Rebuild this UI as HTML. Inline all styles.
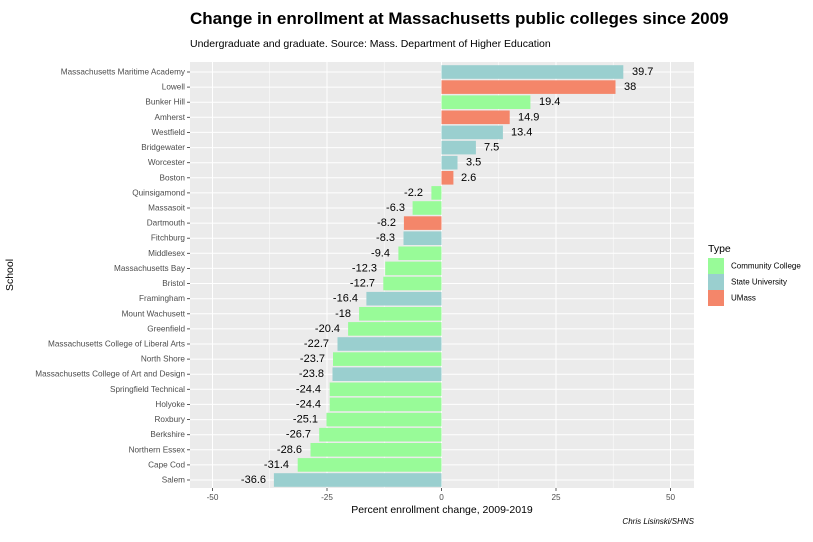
<!DOCTYPE html>
<html><head><meta charset="utf-8"><style>
body{margin:0;background:#fff;}
svg{display:block;font-family:"Liberation Sans",sans-serif;}
</style></head><body>
<svg width="813" height="542" viewBox="0 0 813 542" xmlns="http://www.w3.org/2000/svg">
<rect width="813" height="542" fill="#fff"/>
<text x="190" y="24" font-size="17" font-weight="bold" fill="#000">Change in enrollment at Massachusetts public colleges since 2009</text>
<text x="190" y="47" font-size="10.5" fill="#000">Undergraduate and graduate. Source: Mass. Department of Higher Education</text>
<rect x="190" y="62" width="504" height="426" fill="#EBEBEB"/>
<g stroke="#fff" stroke-width="0.5">
<line x1="269.7" y1="62" x2="269.7" y2="488"/><line x1="384.2" y1="62" x2="384.2" y2="488"/>
<line x1="498.7" y1="62" x2="498.7" y2="488"/><line x1="613.2" y1="62" x2="613.2" y2="488"/>
</g>
<g stroke="#fff" stroke-width="1">
<line x1="212.5" y1="62" x2="212.5" y2="488"/><line x1="327" y1="62" x2="327" y2="488"/>
<line x1="441.5" y1="62" x2="441.5" y2="488"/><line x1="556" y1="62" x2="556" y2="488"/>
<line x1="670.5" y1="62" x2="670.5" y2="488"/>
<line x1="190" y1="72" x2="694" y2="72"/><line x1="190" y1="87.1" x2="694" y2="87.1"/>
<line x1="190" y1="102.2" x2="694" y2="102.2"/><line x1="190" y1="117.3" x2="694" y2="117.3"/>
<line x1="190" y1="132.4" x2="694" y2="132.4"/><line x1="190" y1="147.6" x2="694" y2="147.6"/>
<line x1="190" y1="162.7" x2="694" y2="162.7"/><line x1="190" y1="177.8" x2="694" y2="177.8"/>
<line x1="190" y1="192.9" x2="694" y2="192.9"/><line x1="190" y1="208" x2="694" y2="208"/>
<line x1="190" y1="223.1" x2="694" y2="223.1"/><line x1="190" y1="238.2" x2="694" y2="238.2"/>
<line x1="190" y1="253.3" x2="694" y2="253.3"/><line x1="190" y1="268.4" x2="694" y2="268.4"/>
<line x1="190" y1="283.5" x2="694" y2="283.5"/><line x1="190" y1="298.7" x2="694" y2="298.7"/>
<line x1="190" y1="313.8" x2="694" y2="313.8"/><line x1="190" y1="328.9" x2="694" y2="328.9"/>
<line x1="190" y1="344" x2="694" y2="344"/><line x1="190" y1="359.1" x2="694" y2="359.1"/>
<line x1="190" y1="374.2" x2="694" y2="374.2"/><line x1="190" y1="389.3" x2="694" y2="389.3"/>
<line x1="190" y1="404.4" x2="694" y2="404.4"/><line x1="190" y1="419.6" x2="694" y2="419.6"/>
<line x1="190" y1="434.7" x2="694" y2="434.7"/><line x1="190" y1="449.8" x2="694" y2="449.8"/>
<line x1="190" y1="464.9" x2="694" y2="464.9"/><line x1="190" y1="480" x2="694" y2="480"/>
</g>
<g>
<rect x="441.5" y="65.2" width="181.8" height="13.6" fill="#9ACFCF"/>
<rect x="441.5" y="80.3" width="174.0" height="13.6" fill="#F4866A"/>
<rect x="441.5" y="95.4" width="88.9" height="13.6" fill="#98FB98"/>
<rect x="441.5" y="110.5" width="68.2" height="13.6" fill="#F4866A"/>
<rect x="441.5" y="125.6" width="61.4" height="13.6" fill="#9ACFCF"/>
<rect x="441.5" y="140.8" width="34.4" height="13.6" fill="#9ACFCF"/>
<rect x="441.5" y="155.9" width="16.0" height="13.6" fill="#9ACFCF"/>
<rect x="441.5" y="171.0" width="11.9" height="13.6" fill="#F4866A"/>
<rect x="431.4" y="186.1" width="10.1" height="13.6" fill="#98FB98"/>
<rect x="412.6" y="201.2" width="28.9" height="13.6" fill="#98FB98"/>
<rect x="403.9" y="216.3" width="37.6" height="13.6" fill="#F4866A"/>
<rect x="403.5" y="231.4" width="38.0" height="13.6" fill="#9ACFCF"/>
<rect x="398.4" y="246.5" width="43.1" height="13.6" fill="#98FB98"/>
<rect x="385.2" y="261.6" width="56.3" height="13.6" fill="#98FB98"/>
<rect x="383.3" y="276.7" width="58.2" height="13.6" fill="#98FB98"/>
<rect x="366.4" y="291.9" width="75.1" height="13.6" fill="#9ACFCF"/>
<rect x="359.1" y="307.0" width="82.4" height="13.6" fill="#98FB98"/>
<rect x="348.1" y="322.1" width="93.4" height="13.6" fill="#98FB98"/>
<rect x="337.5" y="337.2" width="104.0" height="13.6" fill="#9ACFCF"/>
<rect x="333.0" y="352.3" width="108.5" height="13.6" fill="#98FB98"/>
<rect x="332.5" y="367.4" width="109.0" height="13.6" fill="#9ACFCF"/>
<rect x="329.7" y="382.5" width="111.8" height="13.6" fill="#98FB98"/>
<rect x="329.7" y="397.6" width="111.8" height="13.6" fill="#98FB98"/>
<rect x="326.5" y="412.8" width="115.0" height="13.6" fill="#98FB98"/>
<rect x="319.2" y="427.9" width="122.3" height="13.6" fill="#98FB98"/>
<rect x="310.5" y="443.0" width="131.0" height="13.6" fill="#98FB98"/>
<rect x="297.7" y="458.1" width="143.8" height="13.6" fill="#98FB98"/>
<rect x="273.9" y="473.2" width="167.6" height="13.6" fill="#9ACFCF"/>
</g>
<g font-size="11" fill="#000" dominant-baseline="central">
<text x="632" y="72">39.7</text><text x="624" y="87.1">38</text>
<text x="539" y="102.2">19.4</text><text x="518" y="117.3">14.9</text>
<text x="511" y="132.4">13.4</text><text x="484" y="147.6">7.5</text>
<text x="466" y="162.7">3.5</text><text x="461" y="177.8">2.6</text>
<g text-anchor="end">
<text x="423" y="192.9">-2.2</text><text x="405" y="208">-6.3</text>
<text x="396" y="223.1">-8.2</text><text x="395" y="238.2">-8.3</text>
<text x="390" y="253.3">-9.4</text><text x="377" y="268.4">-12.3</text>
<text x="375" y="283.5">-12.7</text><text x="358" y="298.7">-16.4</text>
<text x="351" y="313.8">-18</text><text x="340" y="328.9">-20.4</text>
<text x="329" y="344">-22.7</text><text x="325" y="359.1">-23.7</text>
<text x="324" y="374.2">-23.8</text><text x="321" y="389.3">-24.4</text>
<text x="321" y="404.4">-24.4</text><text x="318" y="419.6">-25.1</text>
<text x="311" y="434.7">-26.7</text><text x="302" y="449.8">-28.6</text>
<text x="289" y="464.9">-31.4</text><text x="266" y="480">-36.6</text>
</g></g>
<g font-size="8.2" fill="#4D4D4D" text-anchor="end" dominant-baseline="central">
<text x="185" y="72">Massachusetts Maritime Academy</text><text x="185" y="87.1">Lowell</text>
<text x="185" y="102.2">Bunker Hill</text><text x="185" y="117.3">Amherst</text>
<text x="185" y="132.4">Westfield</text><text x="185" y="147.6">Bridgewater</text>
<text x="185" y="162.7">Worcester</text><text x="185" y="177.8">Boston</text>
<text x="185" y="192.9">Quinsigamond</text><text x="185" y="208">Massasoit</text>
<text x="185" y="223.1">Dartmouth</text><text x="185" y="238.2">Fitchburg</text>
<text x="185" y="253.3">Middlesex</text><text x="185" y="268.4">Massachusetts Bay</text>
<text x="185" y="283.5">Bristol</text><text x="185" y="298.7">Framingham</text>
<text x="185" y="313.8">Mount Wachusett</text><text x="185" y="328.9">Greenfield</text>
<text x="185" y="344">Massachusetts College of Liberal Arts</text><text x="185" y="359.1">North Shore</text>
<text x="185" y="374.2">Massachusetts College of Art and Design</text><text x="185" y="389.3">Springfield Technical</text>
<text x="185" y="404.4">Holyoke</text><text x="185" y="419.6">Roxbury</text>
<text x="185" y="434.7">Berkshire</text><text x="185" y="449.8">Northern Essex</text>
<text x="185" y="464.9">Cape Cod</text><text x="185" y="480">Salem</text>
</g>
<g stroke="#333" stroke-width="0.8">
<line x1="187" y1="72" x2="190" y2="72"/><line x1="187" y1="87.1" x2="190" y2="87.1"/>
<line x1="187" y1="102.2" x2="190" y2="102.2"/><line x1="187" y1="117.3" x2="190" y2="117.3"/>
<line x1="187" y1="132.4" x2="190" y2="132.4"/><line x1="187" y1="147.6" x2="190" y2="147.6"/>
<line x1="187" y1="162.7" x2="190" y2="162.7"/><line x1="187" y1="177.8" x2="190" y2="177.8"/>
<line x1="187" y1="192.9" x2="190" y2="192.9"/><line x1="187" y1="208" x2="190" y2="208"/>
<line x1="187" y1="223.1" x2="190" y2="223.1"/><line x1="187" y1="238.2" x2="190" y2="238.2"/>
<line x1="187" y1="253.3" x2="190" y2="253.3"/><line x1="187" y1="268.4" x2="190" y2="268.4"/>
<line x1="187" y1="283.5" x2="190" y2="283.5"/><line x1="187" y1="298.7" x2="190" y2="298.7"/>
<line x1="187" y1="313.8" x2="190" y2="313.8"/><line x1="187" y1="328.9" x2="190" y2="328.9"/>
<line x1="187" y1="344" x2="190" y2="344"/><line x1="187" y1="359.1" x2="190" y2="359.1"/>
<line x1="187" y1="374.2" x2="190" y2="374.2"/><line x1="187" y1="389.3" x2="190" y2="389.3"/>
<line x1="187" y1="404.4" x2="190" y2="404.4"/><line x1="187" y1="419.6" x2="190" y2="419.6"/>
<line x1="187" y1="434.7" x2="190" y2="434.7"/><line x1="187" y1="449.8" x2="190" y2="449.8"/>
<line x1="187" y1="464.9" x2="190" y2="464.9"/><line x1="187" y1="480" x2="190" y2="480"/>
<line x1="212.5" y1="488" x2="212.5" y2="491"/><line x1="327" y1="488" x2="327" y2="491"/>
<line x1="441.5" y1="488" x2="441.5" y2="491"/><line x1="556" y1="488" x2="556" y2="491"/>
<line x1="670.5" y1="488" x2="670.5" y2="491"/>
</g>
<g font-size="8.2" fill="#4D4D4D" text-anchor="middle">
<text x="212.5" y="500">-50</text><text x="327" y="500">-25</text><text x="441.5" y="500">0</text>
<text x="556" y="500">25</text><text x="670.5" y="500">50</text>
</g>
<text x="442" y="513" font-size="10.5" text-anchor="middle" fill="#000">Percent enrollment change, 2009-2019</text>
<text x="694" y="524" font-size="8" font-style="italic" text-anchor="end" fill="#000">Chris Lisinski/SHNS</text>
<text transform="translate(13,275) rotate(-90)" font-size="10.5" text-anchor="middle" fill="#000">School</text>
<text x="708" y="252" font-size="10.5" fill="#000">Type</text>
<rect x="708" y="258" width="16" height="16" fill="#98FB98"/>
<rect x="708" y="274" width="16" height="16" fill="#9ACFCF"/>
<rect x="708" y="290" width="16" height="16" fill="#F4866A"/>
<g font-size="8" fill="#000" dominant-baseline="central">
<text x="731" y="266">Community College</text>
<text x="731" y="282">State University</text>
<text x="731" y="298">UMass</text>
</g>
</svg>
</body></html>
